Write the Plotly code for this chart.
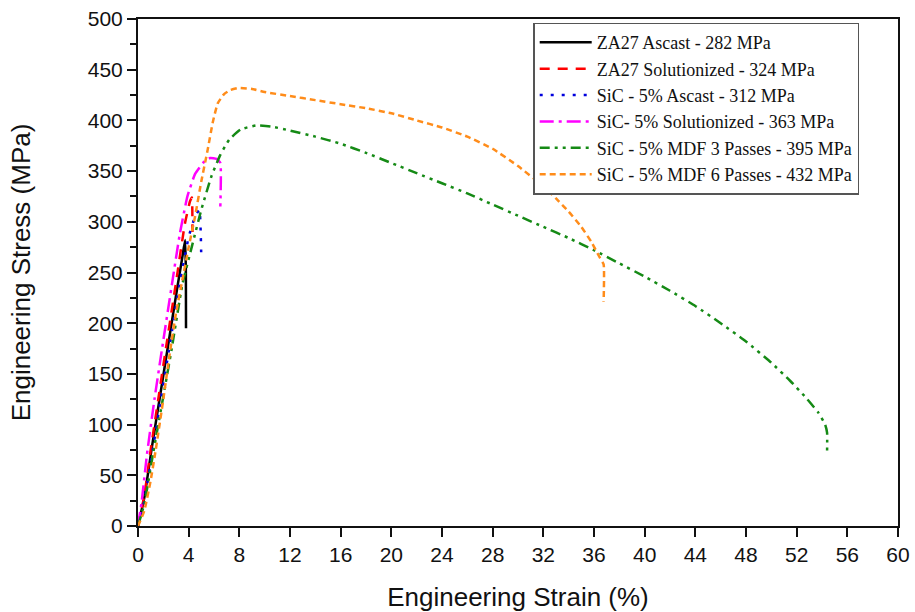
import plotly.graph_objects as go

# Engineering stress-strain curves (strain in %, stress in MPa)
za27_ascast_x = [0, 0.5, 1.1, 1.7, 2.4, 3.1, 3.5, 3.72, 3.78, 3.79]
za27_ascast_y = [0, 28, 78, 125, 180, 235, 265, 282, 250, 195]

za27_sol_x = [0, 0.5, 1.0, 1.6, 2.2, 3.0, 3.7, 4.1, 4.25, 4.3]
za27_sol_y = [0, 30, 75, 125, 175, 240, 298, 320, 324, 290]

sic_ascast_x = [0, 0.5, 1.1, 1.8, 2.5, 3.3, 4.0, 4.5, 4.85, 4.95, 5.0]
sic_ascast_y = [0, 25, 70, 125, 178, 240, 285, 305, 312, 290, 262]

sic_sol_x = [0, 0.3, 0.7, 1.3, 1.9, 2.7, 3.3, 3.9, 4.5, 5.2, 5.7, 6.2, 6.5, 6.5]
sic_sol_y = [0, 25, 70, 125, 175, 240, 288, 325, 347, 359, 363, 362, 358, 315]

mdf3_x = [0, 0.5, 1.2, 2.0, 2.65, 3.5, 4.3, 5.0, 5.8, 6.5, 7.2, 8.1, 9.3, 10.5, 12, 14,
          16, 18, 20, 22, 24, 26, 28, 30, 32, 34, 36, 38, 40, 42, 44, 46, 48, 50,
          51.5, 52.7, 53.7, 54.25, 54.4, 54.4]
mdf3_y = [0, 22, 72, 128, 174, 238, 278, 312, 345, 366, 381, 391, 395, 394, 390, 384,
          377, 368, 358, 348, 338, 328, 317, 306, 295, 284, 272, 259, 246, 232, 217, 200,
          182, 161, 143, 127, 112, 100, 92, 72]

mdf6_x = [0, 0.5, 1.0, 1.4, 2.0, 2.55, 3.0, 3.46, 4.0, 4.5, 5.0, 5.5, 5.9, 6.3, 6.8, 7.3,
          7.9, 9, 10, 12, 14, 16, 18, 20, 22, 24, 26, 28, 30, 32, 33, 34, 35, 35.8,
          36.4, 36.76, 36.76]
mdf6_y = [0, 15, 45, 75, 125, 174, 210, 240, 275, 305, 340, 371, 398, 417, 426, 430,
          432, 431, 428, 424, 420, 416, 412, 407, 400, 393, 384, 372, 355, 335, 323, 310,
          295, 280, 266, 258, 221]

series = [
    ("ZA27 Ascast - 282 MPa", za27_ascast_x, za27_ascast_y, "#000000", "solid"),
    ("ZA27 Solutionized - 324 MPa", za27_sol_x, za27_sol_y, "#ff0000", "10px,8px"),
    ("SiC - 5% Ascast - 312 MPa", sic_ascast_x, sic_ascast_y, "#0000dd", "3px,8px"),
    ("SiC- 5% Solutionized - 363 MPa", sic_sol_x, sic_sol_y, "#ff00ff", "14px,5px,3px,5px"),
    ("SiC - 5% MDF 3 Passes - 395 MPa", mdf3_x, mdf3_y, "#158a15", "10px,5px,3px,5px,3px,5px"),
    ("SiC - 5% MDF 6 Passes - 432 MPa", mdf6_x, mdf6_y, "#ff8c1a", "6px,4px"),
]

fig = go.Figure()
for name, xs, ys, color, dash in series:
    fig.add_trace(go.Scatter(
        x=xs, y=ys, mode="lines", name=name,
        line=dict(color=color, width=2.5, dash=dash, shape="spline", smoothing=0.4),
    ))

axis_font = dict(family="Liberation Sans, Arial, sans-serif", size=21, color="#111")
title_font = dict(family="Liberation Sans, Arial, sans-serif", size=26, color="#111")

fig.update_layout(
    width=915, height=612,
    margin=dict(l=138, r=17, t=19, b=86),
    paper_bgcolor="white", plot_bgcolor="white",
    showlegend=True,
    legend=dict(
        x=0.52, y=0.993, xanchor="left", yanchor="top",
        bgcolor="white", bordercolor="#555", borderwidth=1.5,
        font=dict(family="Liberation Serif, Times New Roman, serif", size=18, color="#111"),
        itemwidth=52,
    ),
    xaxis=dict(
        range=[0, 60], tickmode="linear", tick0=0, dtick=4,
        showgrid=False, zeroline=False, automargin=False,
        showline=True, linecolor="#111", linewidth=2, mirror=True,
        ticks="outside", ticklen=9, tickwidth=2, tickcolor="#111",
        tickfont=axis_font,
        title=dict(text="Engineering Strain (%)", font=title_font, standoff=28),
    ),
    yaxis=dict(
        range=[0, 500], tickmode="linear", tick0=0, dtick=50,
        showgrid=False, zeroline=False, automargin=False,
        showline=True, linecolor="#111", linewidth=2, mirror=True,
        ticks="outside", ticklen=9, tickwidth=2, tickcolor="#111",
        minor=dict(dtick=25, ticks="outside", ticklen=6, tickwidth=2, tickcolor="#111"),
        tickfont=axis_font,
        title=dict(text="Engineering Stress (MPa)", font=title_font, standoff=50),
    ),
)

fig.write_html("out.html")
